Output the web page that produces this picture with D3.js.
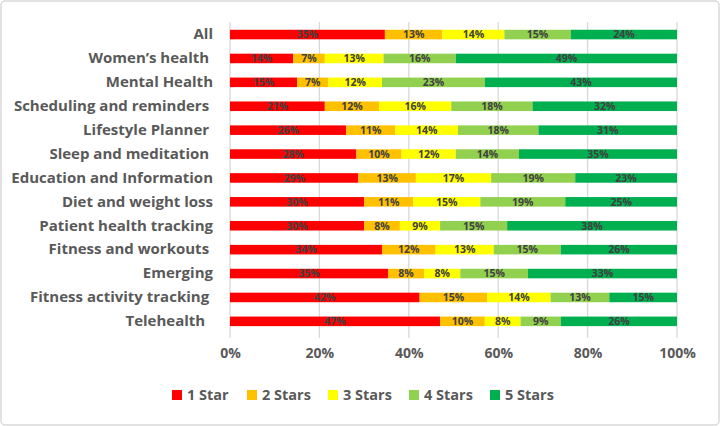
<!DOCTYPE html>
<html><head><meta charset="utf-8">
<script src="https://cdn.jsdelivr.net/npm/d3@7"></script>
<style>
html,body{margin:0;padding:0;background:#fff;}
svg{display:block;font-family:"Open Sans",Lato,sans-serif;}
</style></head>
<body>
<svg id="chart" width="720" height="426"></svg>
<script>
const categories = ["All","Women\u2019s health","Mental Health","Scheduling and reminders","Lifestyle Planner","Sleep and meditation","Education and Information","Diet and weight loss","Patient health tracking","Fitness and workouts","Emerging","Fitness activity tracking","Telehealth"];
const trailing = [0,1,0,1,1,1,0,0,0,1,0,1,2];
const series = ["1 Star","2 Stars","3 Stars","4 Stars","5 Stars"];
const colors = ["#FF0000","#FFC000","#FFFF00","#92D050","#00B050"];
const star1 = [35,14,15,21,26,28,29,30,30,34,35,42,47];
const star2 = [13,7,7,12,11,10,13,11,8,12,8,15,10];
const star3 = [14,13,12,16,14,12,17,15,9,13,8,14,8];
const star4 = [15,16,23,18,18,14,19,19,15,15,15,13,9];
const star5 = [24,49,43,32,31,35,23,25,38,26,33,15,26];
const tickValues = [0,0.2,0.4,0.6,0.8,1];

const values = [star1,star2,star3,star4,star5];
const rows = categories.map((c,i)=>{
  const r = {cat:c};
  series.forEach((s,j)=>r[s]=values[j][i]);
  return r;
});
const stack = d3.stack().keys(series).offset(d3.stackOffsetExpand);
const stacked = stack(rows);

const svg = d3.select("#chart");
svg.append("rect").attr("x",1).attr("y",1).attr("width",718).attr("height",424)
  .attr("rx",4).attr("fill","#fff").attr("stroke","#d9d9d9").attr("stroke-width",1.5);

const x = d3.scaleLinear().domain([0,1]).range([230,677]);
const y = d3.scaleBand().domain(categories).range([22.6,333.3]).paddingInner(0.6).paddingOuter(0.3);

// gridlines
svg.append("g").selectAll("line").data(tickValues).join("line")
  .attr("x1",d=>x(d)).attr("x2",d=>x(d)).attr("y1",22).attr("y2",338)
  .attr("stroke","#d9d9d9").attr("stroke-width",1.3);

// bars
const g = svg.append("g");
stacked.forEach((layer,j)=>{
  const lg = g.append("g");
  lg.selectAll("rect").data(layer).join("rect")
    .attr("x",d=>x(d[0])).attr("width",d=>x(d[1])-x(d[0]))
    .attr("y",d=>y(d.data.cat)).attr("height",y.bandwidth())
    .attr("fill",colors[j]);
  lg.selectAll("text").data(layer).join("text")
    .attr("x",d=>(x(d[0])+x(d[1]))/2)
    .attr("y",d=>y(d.data.cat)+y.bandwidth()/2)
    .attr("dy","0.36em").attr("text-anchor","middle")
    .attr("font-size",10.5).attr("font-weight",700).attr("fill","#404040")
    .text(d=>d.data[series[j]]+"%");
});

// axis labels
const xAxis = d3.axisBottom(x).tickValues(tickValues).tickFormat(d3.format(".0%")).tickSize(0).tickPadding(0);
const ax = svg.append("g").attr("transform","translate(0,348)").call(xAxis);
ax.select(".domain").remove();
ax.selectAll("text").attr("font-size",14).attr("font-weight",700).attr("fill","#595959")
  .attr("font-family","'Open Sans',Lato,sans-serif");

// category labels
const yAxis = d3.axisLeft(y).tickSize(0).tickPadding(0).tickFormat((d,i)=>d+"\u00a0".repeat(trailing[i]));
const ay = svg.append("g").attr("transform","translate(213,0)").call(yAxis);
ay.select(".domain").remove();
ay.selectAll("text").attr("font-size",15).attr("font-weight",700).attr("fill","#595959")
  .attr("font-family","'Open Sans',Lato,sans-serif");

// legend
const legX = [172,247,328,409,490];
const leg = svg.append("g").selectAll("g").data(series).join("g")
  .attr("transform",(d,i)=>`translate(${legX[i]},395)`);
leg.append("rect").attr("x",0).attr("y",-5).attr("width",10).attr("height",10).attr("fill",(d,i)=>colors[i]);
leg.append("text").attr("x",15).attr("y",0).attr("dy","0.36em")
  .attr("font-size",14.5).attr("font-weight",700).attr("fill","#595959").text(d=>d);
</script>
</body></html>
